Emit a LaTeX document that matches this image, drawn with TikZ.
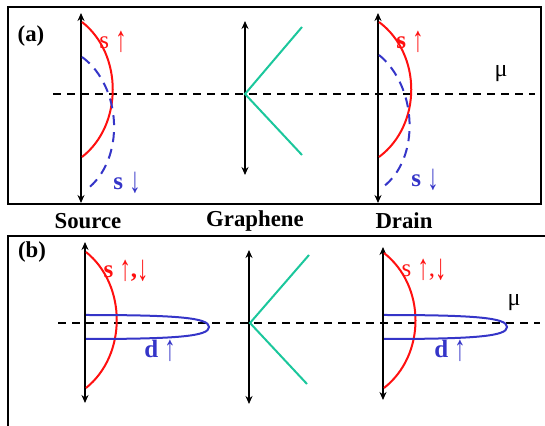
\documentclass[tikz,border=0pt]{standalone}
\usepackage{fontspec}
\usepackage{graphicx}
\setmainfont{Liberation Serif}
\usetikzlibrary{arrows.meta}
\definecolor{SpinRed}{HTML}{FF1010}
\definecolor{SpinBlue}{HTML}{3535C8}
\definecolor{ConeGreen}{HTML}{1BC79C}
\newcommand{\spinup}{\raisebox{-0.12em}{\scalebox{0.9}[1.45]{\mdseries ↑}}}
\newcommand{\spindn}{\raisebox{-0.12em}{\scalebox{0.9}[1.45]{\mdseries ↓}}}

\begin{document}
\begin{tikzpicture}[x=0.5pt, y=-0.5pt, >={Stealth[length=4pt, width=3.5pt]},
        frame/.style={line width=0.75pt},
        axisline/.style={<->, line width=1pt},
        fermi/.style={line width=0.75pt, dash pattern=on 4pt off 3pt},
        sband/.style={SpinRed, line width=1pt},
        sdown/.style={SpinBlue, line width=1pt, dash pattern=on 5pt off 3.5pt},
        dband/.style={SpinBlue, line width=1pt},
        cone/.style={ConeGreen, line width=1pt},
        title/.style={font=\fontsize{11.4}{13}\selectfont\bfseries, inner sep=0pt},
        redlabel/.style={text=SpinRed, font=\fontsize{12.5}{14}\selectfont, inner sep=0pt},
        bluelabel/.style={text=SpinBlue, font=\fontsize{12.5}{14}\selectfont\bfseries, inner sep=0pt},
        mulabel/.style={font=\fontsize{12}{14}\selectfont, inner sep=0pt}]

        \useasboundingbox (0,0) rectangle (545,426);

        % panel (a)
        \draw[frame] (8,7) rectangle (541,204);
        \node[title] (labA) at (31,36) {(a)};
        \draw[fermi] (53,94) -- (535,94);

        % source
        \coordinate (srcTopA) at (81,13);
        \coordinate (srcBotA) at (81,203);
        \draw[axisline] (srcTopA) -- (srcBotA);
        \draw[sband] (82,22) .. controls (123,54) and (123,125) .. (82,157);
        \draw[sdown] (82,57) .. controls (122,86) and (126,160) .. (86,190);
        \node[redlabel] (srcUpA) at (113,42) {s \spinup};
        \node[bluelabel] (srcDnA) at (127,183) {s \spindn};

        % graphene
        \coordinate (grTopA) at (245,21);
        \coordinate (grBotA) at (245,175);
        \coordinate (grDirac) at (245,94);
        \draw[axisline] (grTopA) -- (grBotA);
        \draw[cone] (302,27) -- (grDirac) -- (302,155);

        % drain
        \coordinate (drTopA) at (378,13);
        \coordinate (drBotA) at (378,203);
        \draw[axisline] (drTopA) -- (drBotA);
        \draw[sband] (379,22) .. controls (422,54) and (422,125) .. (379,157);
        \draw[sdown] (379,55) .. controls (417,86) and (421,158) .. (383,187);
        \node[redlabel, font=\fontsize{12.5}{14}\selectfont\bfseries] (drUpA) at (410,42) {s \spinup};
        \node[bluelabel] (drDnA) at (425,180) {s \spindn};
        \node[mulabel] (muA) at (501,74) {μ};

        % column titles
        \node[title] (source) at (88,221) {Source};
        \node[title] (graphene) at (255,221) {Graphene};
        \node[title] (drain) at (404,221) {Drain};

        % panel (b)
        \draw[frame] (8,426) -- (8,236) -- (545,236);
        \node[title] (labB) at (32,252) {(b)};
        \draw[fermi] (58,323) -- (540,323);

        % source
        \coordinate (srcTopB) at (85,242);
        \coordinate (srcBotB) at (85,403);
        \draw[axisline] (srcTopB) -- (srcBotB);
        \draw[sband] (86,252) .. controls (127,285) and (127,355) .. (86,388);
        \draw[dband] (86,315) .. controls (180,315) and (209,318) .. (209,327)
            .. controls (209,336) and (180,339) .. (86,339);
        \node[redlabel, font=\fontsize{12.5}{14}\selectfont\bfseries] (srcSB) at (126,271) {s \spinup,\spindn};
        \node[bluelabel] (srcDB) at (160,351) {d \spinup};

        % graphene
        \coordinate (grTopB) at (249,250);
        \coordinate (grBotB) at (249,404);
        \coordinate (grDiracB) at (250,323);
        \draw[axisline] (grTopB) -- (grBotB);
        \draw[cone] (309,255) -- (grDiracB) -- (307,384);

        % drain
        \coordinate (drTopB) at (383,247);
        \coordinate (drBotB) at (383,400);
        \draw[axisline] (drTopB) -- (drBotB);
        \draw[sband] (384,253) .. controls (426,286) and (426,355) .. (384,388);
        \draw[dband] (384,315) .. controls (478,315) and (507,318) .. (507,327)
            .. controls (507,336) and (478,339) .. (384,339);
        \node[redlabel] (drSB) at (424,270) {s \spinup,\spindn};
        \node[bluelabel] (drDB) at (450,351) {d \spinup};
        \node[mulabel] (muB) at (514,303) {μ};
\end{tikzpicture}
\end{document}
